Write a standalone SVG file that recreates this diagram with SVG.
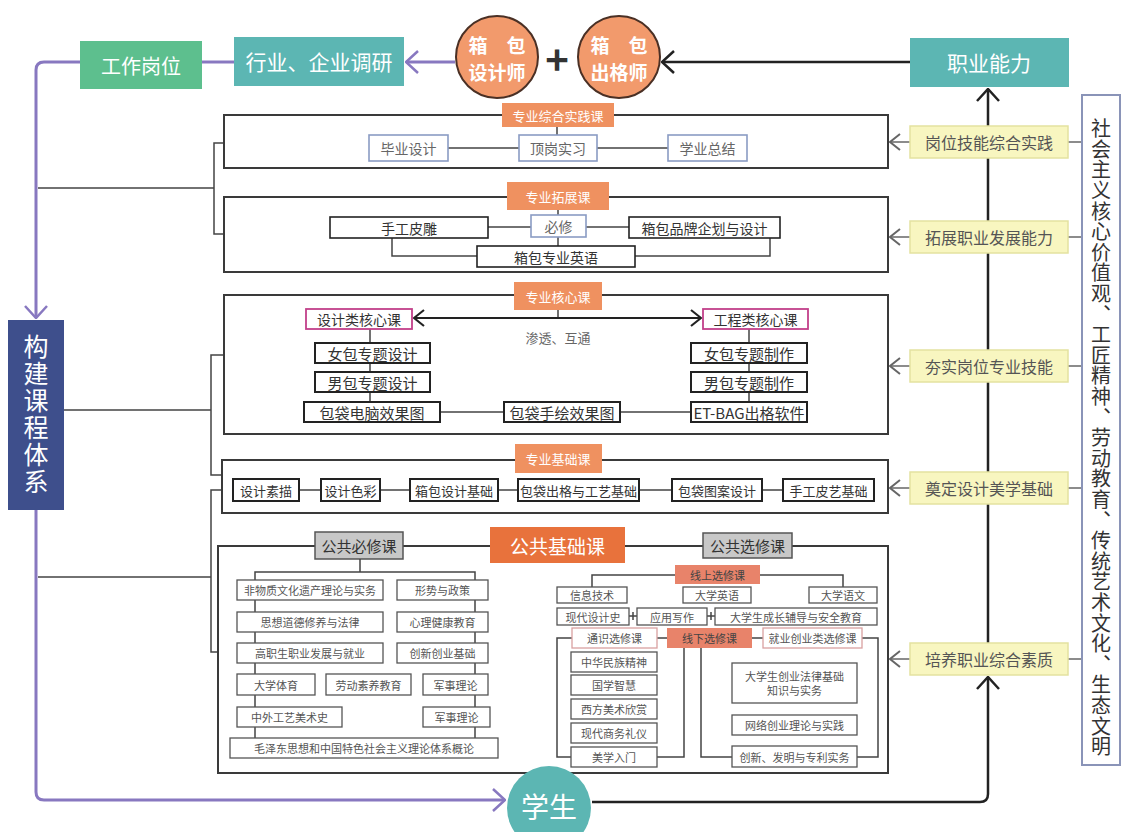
<svg xmlns="http://www.w3.org/2000/svg" width="1128" height="832" viewBox="0 0 1128 832">
<defs>
<style>
text{font-family:"Noto Sans CJK SC","Noto Sans",sans-serif;text-anchor:middle;dominant-baseline:central}
.sec{fill:#fff;stroke:#3a3a3a;stroke-width:2}
.lbl{fill:#ef9160}
.lt{font-size:13px;fill:#fff}
.bb{fill:#fff;stroke:#8a9cc4;stroke-width:1.6}
.kb{fill:#fff;stroke:#222;stroke-width:2}
.sb{fill:#fff;stroke:#555;stroke-width:1.3}
.pb{fill:#fff;stroke:#d9a0a0;stroke-width:1.3}
.ln{stroke:#444;stroke-width:1.5;fill:none}
.t14{font-size:14px;fill:#333}
.t14g{font-size:14px;fill:#666}
.t13{font-size:13px;fill:#333}
.t11{font-size:11px;fill:#555}
.yb{fill:#f8f6c0;stroke:#e4e2a0;stroke-width:1.5}
.yt{font-size:16px;fill:#555}
.teal{fill:#5cb6b3}
.wt{fill:#fff}
.circ{fill:#f29a6c;stroke:#4a3025;stroke-width:2}
.ct{font-size:19px;fill:#fff;font-weight:bold}
.gray{fill:#c8c8c8;stroke:#555;stroke-width:1.5}
.sal{fill:#e8836a}
</style>
<marker id="ak" viewBox="0 0 14 24" refX="13" refY="12" markerWidth="14" markerHeight="24" markerUnits="userSpaceOnUse" orient="auto-start-reverse"><path d="M1,1 L13,12 L1,23" fill="none" stroke="#222" stroke-width="2.5"/></marker>
<marker id="ap" viewBox="0 0 14 24" refX="13" refY="12" markerWidth="14" markerHeight="24" markerUnits="userSpaceOnUse" orient="auto"><path d="M1,1 L13,12 L1,23" fill="none" stroke="#8878c0" stroke-width="2.5"/></marker>
<marker id="ag" viewBox="0 0 12 18" refX="11" refY="9" markerWidth="12" markerHeight="18" markerUnits="userSpaceOnUse" orient="auto"><path d="M1,1 L11,9 L1,17" fill="none" stroke="#666" stroke-width="2"/></marker>
<marker id="ad" viewBox="0 0 12 18" refX="11" refY="9" markerWidth="12" markerHeight="18" markerUnits="userSpaceOnUse" orient="auto-start-reverse"><path d="M1,1 L11,9 L1,17" fill="none" stroke="#222" stroke-width="2.2"/></marker>
</defs>
<rect width="1128" height="832" fill="#fff"/>

<!-- connectors -->
<g id="connectors" fill="none">
  <path d="M80,62 H44 Q36,62 36,70 V318" stroke="#8878c0" stroke-width="3" marker-end="url(#ap)"/>
  <path d="M36,510 V792 Q36,800 44,800 H505" stroke="#8878c0" stroke-width="3" marker-end="url(#ap)"/>
  <line x1="202" y1="62" x2="234" y2="62" stroke="#8878c0" stroke-width="3"/>
  <line x1="455" y1="62" x2="406" y2="62" stroke="#8878c0" stroke-width="3" marker-end="url(#ap)"/>
  <line x1="910" y1="62" x2="662" y2="62" stroke="#222" stroke-width="2.5" marker-end="url(#ak)"/>
  <line x1="988" y1="643" x2="988" y2="89" stroke="#222" stroke-width="2.5" marker-end="url(#ak)"/>
  <path d="M592,802 H980 Q988,802 988,794 V677" stroke="#222" stroke-width="2.5" marker-end="url(#ak)"/>
  <!-- brackets -->
  <path class="ln" d="M38,188 H214 M224,143 H214 V234 H224"/>
  <path class="ln" d="M63,410 H211 M224,355 H211 V475 H222"/>
  <path class="ln" d="M38,577 H211 M222,490 H211 V652 H218"/>
  <!-- yellow to sections -->
  <g stroke="#666" stroke-width="1.5">
    <line x1="910" y1="142" x2="890" y2="142" marker-end="url(#ag)"/>
    <line x1="910" y1="237" x2="890" y2="237" marker-end="url(#ag)"/>
    <line x1="910" y1="366" x2="890" y2="366" marker-end="url(#ag)"/>
    <line x1="910" y1="488" x2="890" y2="488" marker-end="url(#ag)"/>
    <line x1="910" y1="659" x2="890" y2="659" marker-end="url(#ag)"/>
    <line x1="1068" y1="142" x2="1082" y2="142"/>
    <line x1="1068" y1="237" x2="1082" y2="237"/>
    <line x1="1068" y1="366" x2="1082" y2="366"/>
    <line x1="1068" y1="488" x2="1082" y2="488"/>
    <line x1="1068" y1="659" x2="1082" y2="659"/>
  </g>
</g>

<!-- top nodes -->
<g id="n-gangwei"><rect x="80" y="41" width="122" height="48" fill="#5dbf8e"/><text x="141" y="65" font-size="20" class="wt">工作岗位</text></g>
<g id="n-diaoyan"><rect x="234" y="37" width="170" height="49" class="teal"/><text x="319" y="61" font-size="21" class="wt">行业、企业调研</text></g>
<g id="n-sheji"><circle cx="497" cy="57" r="41" class="circ"/><text x="497" y="44" class="ct">箱　包</text><text x="497" y="71" class="ct">设计师</text></g>
<g id="n-plus"><text x="557" y="58" font-size="40" font-weight="bold" fill="#333">+</text></g>
<g id="n-chuge"><circle cx="619" cy="57" r="41" class="circ"/><text x="619" y="44" class="ct">箱　包</text><text x="619" y="71" class="ct">出格师</text></g>
<g id="n-nengli"><rect x="910" y="38" width="159" height="49" class="teal"/><text x="989" y="62" font-size="21" class="wt">职业能力</text></g>

<!-- left node -->
<g id="n-goujian"><rect x="8" y="320" width="56" height="190" fill="#3e4f8c"/><text x="36" y="415" font-size="25" class="wt" style="writing-mode:vertical-rl;letter-spacing:2px">构建课程体系</text></g>

<!-- right tall box -->
<g id="n-values"><rect x="1082" y="95" width="38" height="670" fill="#fff" stroke="#8a94b8" stroke-width="2"/><text x="1101" y="438" font-size="20" fill="#333" style="writing-mode:vertical-rl;letter-spacing:0.6px">社会主义核心价值观、工匠精神、劳动教育、传统艺术文化、生态文明</text></g>

<!-- yellow boxes -->
<g id="y1"><rect x="910" y="126" width="158" height="32" class="yb"/><text x="989" y="142" class="yt">岗位技能综合实践</text></g>
<g id="y2"><rect x="910" y="221" width="158" height="32" class="yb"/><text x="989" y="237" class="yt">拓展职业发展能力</text></g>
<g id="y3"><rect x="910" y="350" width="158" height="32" class="yb"/><text x="989" y="366" class="yt">夯实岗位专业技能</text></g>
<g id="y4"><rect x="910" y="472" width="158" height="32" class="yb"/><text x="989" y="488" class="yt">奠定设计美学基础</text></g>
<g id="y5"><rect x="910" y="643" width="158" height="32" class="yb"/><text x="989" y="659" class="yt">培养职业综合素质</text></g>

<!-- section 1 -->
<g id="s1">
  <rect x="224" y="115" width="664" height="53" class="sec"/>
  <path class="ln" d="M448,148 H519 M597,148 H668 M557,127 V135"/>
  <rect x="502" y="103" width="112" height="24" class="lbl"/><text x="558" y="115" class="lt">专业综合实践课</text>
  <rect x="369" y="135" width="79" height="26" class="bb"/><text x="408.5" y="148" class="t14g">毕业设计</text>
  <rect x="519" y="135" width="78" height="26" class="bb"/><text x="558" y="148" class="t14g">顶岗实习</text>
  <rect x="668" y="135" width="79" height="26" class="bb"/><text x="707.5" y="148" class="t14g">学业总结</text>
</g>

<!-- section 2 -->
<g id="s2">
  <rect x="224" y="197" width="664" height="75" class="sec"/>
  <path class="ln" d="M488,227 H531 M586,227 H629 M558,210 V215 M558,237 V246 M392,238 V256 H477 M635,256 H770 V238"/>
  <rect x="507" y="182" width="102" height="28" class="lbl"/><text x="558" y="196" class="lt">专业拓展课</text>
  <rect x="330" y="217" width="158" height="21" class="kb" style="stroke-width:1.6"/><text x="409" y="227.5" class="t14">手工皮雕</text>
  <rect x="531" y="215" width="55" height="22" class="bb"/><text x="558.5" y="226" class="t14g">必修</text>
  <rect x="629" y="217" width="151" height="21" class="kb" style="stroke-width:1.6"/><text x="704.5" y="227.5" class="t14">箱包品牌企划与设计</text>
  <rect x="477" y="246" width="158" height="21" class="kb" style="stroke-width:1.6"/><text x="556" y="256.5" class="t14">箱包专业英语</text>
</g>

<!-- section 3 -->
<g id="s3">
  <rect x="224" y="295" width="664" height="139" class="sec"/>
  <path class="ln" d="M558,310 V318 M370,329 V402 M749,329 V402 M440,412 H504 M620,412 H691"/>
  <line x1="414" y1="318" x2="701" y2="318" stroke="#222" stroke-width="2" marker-start="url(#ad)" marker-end="url(#ad)"/>
  <rect x="514" y="282" width="88" height="28" class="lbl"/><text x="558" y="296" class="lt">专业核心课</text>
  <text x="558" y="337" font-size="13" fill="#666">渗透、互通</text>
  <rect x="306" y="309" width="106" height="20" fill="#fff" stroke="#c2408a" stroke-width="1.8"/><text x="359" y="319" class="t14">设计类核心课</text>
  <rect x="703" y="309" width="105" height="20" fill="#fff" stroke="#c2408a" stroke-width="1.8"/><text x="755.5" y="319" class="t14">工程类核心课</text>
  <rect x="315" y="343" width="115" height="20" class="kb"/><text x="372.5" y="353" class="t14" style="font-size:15px">女包专题设计</text>
  <rect x="315" y="372" width="115" height="20" class="kb"/><text x="372.5" y="382" class="t14" style="font-size:15px">男包专题设计</text>
  <rect x="304" y="402" width="136" height="20" class="kb"/><text x="372" y="412" class="t14" style="font-size:15px">包袋电脑效果图</text>
  <rect x="504" y="402" width="116" height="20" class="kb"/><text x="562" y="412" class="t14" style="font-size:15px">包袋手绘效果图</text>
  <rect x="691" y="343" width="116" height="20" class="kb"/><text x="749" y="353" class="t14" style="font-size:15px">女包专题制作</text>
  <rect x="691" y="372" width="116" height="20" class="kb"/><text x="749" y="382" class="t14" style="font-size:15px">男包专题制作</text>
  <rect x="691" y="402" width="116" height="20" class="kb"/><text x="749" y="412" class="t14" style="font-size:15px">ET-BAG出格软件</text>
</g>

<!-- section 4 -->
<g id="s4">
  <rect x="222" y="460" width="666" height="53" class="sec"/>
  <path class="ln" d="M299,490 H321 M380,490 H410 M498,490 H518 M639,490 H672 M762,490 H783"/>
  <rect x="515" y="444" width="87" height="29" class="lbl"/><text x="558" y="458" class="lt">专业基础课</text>
  <rect x="233" y="479" width="66" height="22" class="kb"/><text x="266" y="490" class="t13">设计素描</text>
  <rect x="321" y="479" width="59" height="22" class="kb"/><text x="350.5" y="490" class="t13">设计色彩</text>
  <rect x="410" y="479" width="88" height="22" class="kb"/><text x="454" y="490" class="t13">箱包设计基础</text>
  <rect x="518" y="479" width="121" height="22" class="kb"/><text x="578.5" y="490" class="t13">包袋出格与工艺基础</text>
  <rect x="672" y="479" width="90" height="22" class="kb"/><text x="717" y="490" class="t13">包袋图案设计</text>
  <rect x="783" y="479" width="91" height="22" class="kb"/><text x="828.5" y="490" class="t13">手工皮艺基础</text>
</g>

<!-- section 5 -->
<g id="s5">
  <path d="M315,546 H218 V773 H888 V546 H792 M403,546 H490 M625,546 H703" fill="none" stroke="#3a3a3a" stroke-width="2"/>
  <rect x="490" y="527" width="135" height="36" fill="#e8723c"/><text x="557.5" y="545" font-size="19" class="wt">公共基础课</text>
  <rect x="315" y="532" width="88" height="27" class="gray"/><text x="359" y="545.5" font-size="15" fill="#333">公共必修课</text>
  <rect x="703" y="533" width="89" height="25" class="gray"/><text x="747.5" y="545.5" font-size="15" fill="#333">公共选修课</text>
  <!-- required -->
  <path class="ln" d="M360,559 V572 M255,738 V572 H475 V738"/>
  <rect x="237" y="580" width="146" height="20" class="sb"/><text x="310" y="590" class="t11">非物质文化遗产理论与实务</text>
  <rect x="397" y="580" width="91" height="20" class="sb"/><text x="442.5" y="590" class="t11">形势与政策</text>
  <rect x="237" y="612" width="146" height="20" class="sb"/><text x="310" y="622" class="t11">思想道德修养与法律</text>
  <rect x="397" y="612" width="91" height="20" class="sb"/><text x="442.5" y="622" class="t11">心理健康教育</text>
  <rect x="237" y="643" width="146" height="20" class="sb"/><text x="310" y="653" class="t11">高职生职业发展与就业</text>
  <rect x="397" y="643" width="91" height="20" class="sb"/><text x="442.5" y="653" class="t11">创新创业基础</text>
  <rect x="237" y="674" width="78" height="21" class="sb"/><text x="276" y="684.5" class="t11">大学体育</text>
  <rect x="326" y="674" width="85" height="21" class="sb"/><text x="368.5" y="684.5" class="t11">劳动素养教育</text>
  <rect x="423" y="674" width="65" height="21" class="sb"/><text x="455.5" y="684.5" class="t11">军事理论</text>
  <rect x="237" y="707" width="105" height="20" class="sb"/><text x="289.5" y="717" class="t11">中外工艺美术史</text>
  <rect x="423" y="707" width="67" height="20" class="sb"/><text x="456.5" y="717" class="t11">军事理论</text>
  <rect x="230" y="738" width="268" height="20" class="sb"/><text x="364" y="748" class="t11">毛泽东思想和中国特色社会主义理论体系概论</text>
  <!-- elective online -->
  <path class="ln" d="M592,587 V575 H675 M760,575 H843 V587 M629,616 H637 M633,612 V620 M707,616 H715 M711,612 V620 M657,638 H667 M752,638 H763"/>
  <rect x="675" y="565" width="85" height="19" class="sal"/><text x="717.5" y="574.5" class="t11" style="fill:#444">线上选修课</text>
  <rect x="557" y="587" width="70" height="16" class="sb"/><text x="592" y="595" class="t11">信息技术</text>
  <rect x="683" y="587" width="68" height="16" class="sb"/><text x="717" y="595" class="t11">大学英语</text>
  <rect x="809" y="587" width="68" height="16" class="sb"/><text x="843" y="595" class="t11">大学语文</text>
  <rect x="557" y="608" width="72" height="17" class="sb"/><text x="593" y="616.5" class="t11">现代设计史</text>
  <rect x="637" y="608" width="70" height="17" class="sb"/><text x="672" y="616.5" class="t11">应用写作</text>
  <rect x="715" y="608" width="162" height="17" class="sb"/><text x="796" y="616.5" class="t11">大学生成长辅导与安全教育</text>
  <!-- elective offline -->
  <path class="ln" d="M572,638 H557 V757 H571 M657,757 H684 V648 M701,648 V757 H732 M857,757 H878 V638 H862"/>
  <rect x="572" y="628" width="85" height="20" class="pb"/><text x="614.5" y="638" class="t11">通识选修课</text>
  <rect x="667" y="628" width="85" height="20" class="sal"/><text x="709.5" y="638" class="t11" style="fill:#444">线下选修课</text>
  <rect x="763" y="628" width="99" height="20" class="pb"/><text x="812.5" y="638" class="t11">就业创业类选修课</text>
  <rect x="571" y="652" width="86" height="20" class="sb"/><text x="614" y="662" class="t11">中华民族精神</text>
  <rect x="571" y="675" width="86" height="20" class="sb"/><text x="614" y="685" class="t11">国学智慧</text>
  <rect x="571" y="699" width="86" height="20" class="sb"/><text x="614" y="709" class="t11">西方美术欣赏</text>
  <rect x="571" y="723" width="86" height="20" class="sb"/><text x="614" y="733" class="t11">现代商务礼仪</text>
  <rect x="571" y="747" width="86" height="20" class="sb"/><text x="614" y="757" class="t11">美学入门</text>
  <rect x="732" y="663" width="125" height="40" class="sb"/><text x="794.5" y="676" class="t11">大学生创业法律基础</text><text x="794.5" y="690" class="t11">知识与实务</text>
  <rect x="732" y="715" width="125" height="20" class="sb"/><text x="794.5" y="725" class="t11">网络创业理论与实践</text>
  <rect x="732" y="746" width="125" height="21" class="sb"/><text x="794.5" y="756.5" class="t11">创新、发明与专利实务</text>
</g>

<!-- student -->
<g id="n-student"><circle cx="549" cy="808" r="42" class="teal"/><text x="549" y="806" font-size="28" class="wt">学生</text></g>
</svg>
